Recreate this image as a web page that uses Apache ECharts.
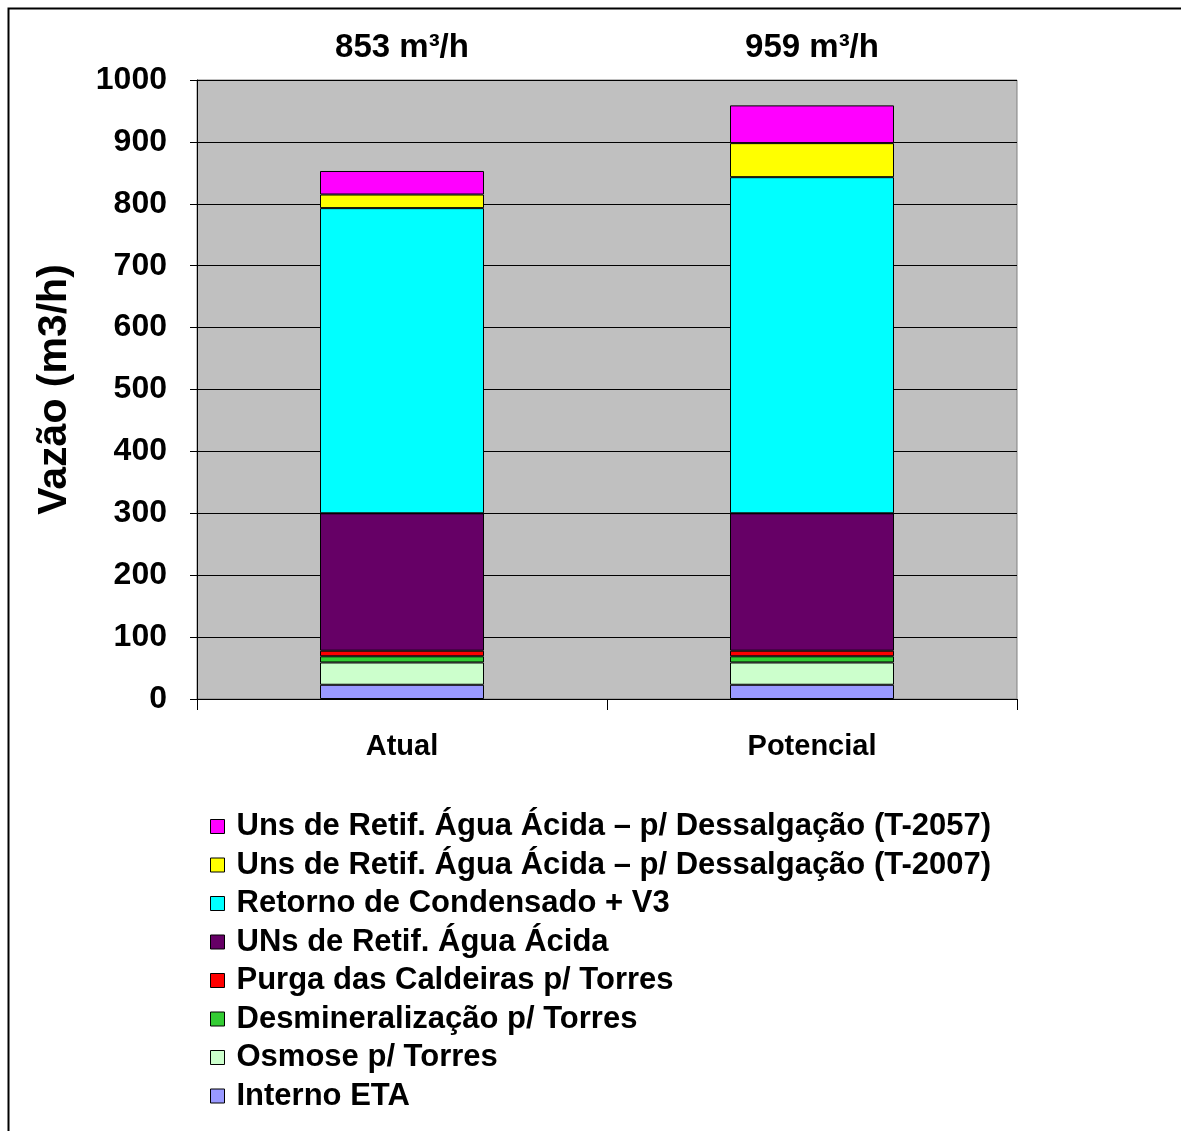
<!DOCTYPE html>
<html>
<head>
<meta charset="utf-8">
<script src="https://cdn.jsdelivr.net/npm/echarts@6/dist/echarts.min.js"></script>
<style>
html,body{margin:0;padding:0;background:#fff;}
#chart{width:1181px;height:1131px;}
</style>
</head>
<body>
<div id="chart"></div>
<script>
const categories = ['Atual', 'Potencial'];
const seriesNames = [
  'Interno ETA',
  'Osmose p/ Torres',
  'Desmineralização p/ Torres',
  'Purga das Caldeiras p/ Torres',
  'UNs de Retif. Água Ácida',
  'Retorno de Condensado + V3',
  'Uns de Retif. Água Ácida – p/ Dessalgação (T-2007)',
  'Uns de Retif. Água Ácida – p/ Dessalgação (T-2057)'
];
const internoETA = [23, 23];
const osmose = [36, 36];
const desmineralizacao = [10, 10];
const purga = [9, 9];
const unsRetif = [222, 222];
const retorno = [493, 543];
const dessalgacaoT2007 = [22, 55];
const dessalgacaoT2057 = [38, 61];
const yTicks = [0, 100, 200, 300, 400, 500, 600, 700, 800, 900, 1000];
const colors = ['#9999FF', '#CCFFCC', '#33CC33', '#FF0000', '#660066', '#00FFFF', '#FFFF00', '#FF00FF'];

const seriesValues = [internoETA, osmose, desmineralizacao, purga, unsRetif, retorno, dessalgacaoT2007, dessalgacaoT2057];
const totals = categories.map((c, i) => seriesValues.reduce((s, arr) => s + arr[i], 0));
const totalLabels = totals.map(t => t + ' m³/h');

const FONT = '"Liberation Sans", Arial, sans-serif';
const chart = echarts.init(document.getElementById('chart'), null, {renderer: 'canvas'});
chart.setOption({
  backgroundColor: '#ffffff',
  animation: false,
  graphic: [{
    type: 'rect', left: 6, top: 6,
    shape: {x: 0, y: 0, width: 1200, height: 1200},
    style: {fill: 'none', stroke: '#000', lineWidth: 2},
    z: -1
  }],
  grid: {
    left: 197, right: 164, top: 80, bottom: 432,
    show: true, backgroundColor: '#C0C0C0', borderColor: '#808080', borderWidth: 1
  },
  legend: {
    orient: 'vertical',
    left: 205, top: 806, height: 400, width: 900,
    itemWidth: 14, itemHeight: 14, itemGap: 7.5,
    icon: 'rect',
    data: seriesNames.slice().reverse(),
    textStyle: {fontFamily: FONT, fontWeight: 'bold', fontSize: 31, color: '#000', padding: [0, 0, 0, 7]},
    itemStyle: {borderColor: '#000', borderWidth: 1}
  },
  xAxis: [{
    type: 'category', data: categories, position: 'bottom',
    axisLine: {lineStyle: {color: '#000', width: 1}},
    axisTick: {show: true, length: 11, lineStyle: {color: '#000'}},
    axisLabel: {fontFamily: FONT, fontWeight: 'bold', fontSize: 29, color: '#000', margin: 33}
  }, {
    type: 'category', data: totalLabels, position: 'top',
    axisLine: {show: false}, axisTick: {show: false},
    axisLabel: {fontFamily: FONT, fontWeight: 'bold', fontSize: 33, color: '#000', margin: 16}
  }],
  yAxis: {
    type: 'value', min: yTicks[0], max: yTicks[yTicks.length - 1], interval: 100,
    name: 'Vazão (m3/h)', nameLocation: 'middle', nameGap: 122, nameRotate: 90,
    nameTextStyle: {fontFamily: FONT, fontWeight: 'bold', fontSize: 41, color: '#000'},
    axisLine: {show: true, lineStyle: {color: '#000'}},
    axisTick: {show: true, length: 7, inside: false, lineStyle: {color: '#000'}},
    splitLine: {show: true, lineStyle: {color: '#000', width: 1}},
    axisLabel: {fontFamily: FONT, fontWeight: 'bold', fontSize: 32, color: '#000', margin: 30,
      formatter: v => String(v)}
  },
  series: seriesNames.map((name, i) => ({
    name: name,
    type: 'bar',
    stack: 'total',
    barWidth: '40%',
    xAxisIndex: 0,
    data: seriesValues[i],
    itemStyle: {color: colors[i], borderColor: '#000', borderWidth: 1}
  }))
});
</script>
</body>
</html>
